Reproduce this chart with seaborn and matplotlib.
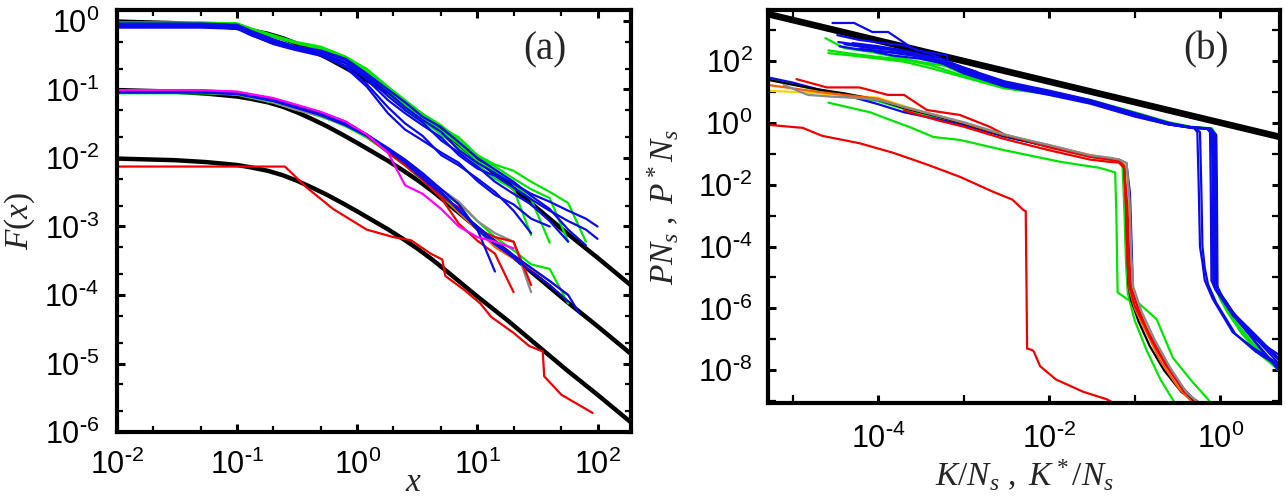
import numpy as np
import matplotlib
matplotlib.use('Agg')
import matplotlib.pyplot as plt
from matplotlib.ticker import LogLocator, NullFormatter, FuncFormatter
import seaborn as sns

# ---------------- panel (a): F(x) ----------------
black_x = [0.01, 0.03, 0.056, 0.1, 0.13, 0.18, 0.24, 0.32, 0.42, 0.56, 0.75, 1.0, 1.35, 1.8,
           2.4, 3.2, 4.2, 5.6, 10, 18, 32, 56, 100, 190]
black_y = [0.98, 0.93, 0.87, 0.79, 0.73, 0.65, 0.56, 0.46, 0.37, 0.29, 0.22, 0.166, 0.122, 0.091,
           0.066, 0.047, 0.033, 0.022, 0.0095, 0.0042, 0.0018, 0.00079, 0.00035, 0.000138]
black_shift = [1.0, 0.1, 0.01]

grid_top = [0.01, 0.05, 0.1, 0.13, 0.2, 0.3, 0.5, 0.8, 1.2, 1.8, 2.5, 3.5, 5, 7, 10, 14,
            20, 28, 40, 57, 80, 100]
top_b1 = [0.90, 0.90, 0.86, 0.70, 0.52, 0.42, 0.36, 0.27, 0.16, 0.09, 0.055, 0.036, 0.024, 0.013,
          0.0085, 0.006, 0.0042, 0.003, 0.0023, 0.0017, 0.0013, 0.001]
top_b2 = [0.86, 0.86, 0.82, 0.66, 0.49, 0.40, 0.33, 0.24, 0.14, 0.07, 0.045, 0.03, 0.02, 0.011,
          0.007, 0.0055, 0.0037, 0.0025, 0.0017, 0.0012, 0.0009, 0.00066]
top_b3 = [0.84, 0.84, 0.80, 0.63, 0.46, 0.38, 0.31, 0.22, 0.12, 0.055, 0.032, 0.021, 0.011, 0.0078,
          0.005, 0.0032, 0.0017, 0.0008]
top_b4 = [0.92, 0.92, 0.88, 0.72, 0.54, 0.43, 0.37, 0.28, 0.17, 0.10, 0.065, 0.04, 0.028, 0.017,
          0.01, 0.0068, 0.0045, 0.0028, 0.0018, 0.0009, 0.00053]
top_b5 = [0.80, 0.80, 0.77, 0.62, 0.47, 0.39, 0.32, 0.21, 0.11, 0.045, 0.026, 0.018, 0.012, 0.0085,
          0.0046, 0.0029, 0.0021, 0.0013, 0.001]
top_b6 = [0.88, 0.88, 0.84, 0.68, 0.51, 0.41, 0.34, 0.25, 0.15, 0.08, 0.05, 0.033, 0.018, 0.012,
          0.0075, 0.0045, 0.003, 0.0021, 0.0012, 0.0006]
top_g1 = [0.95, 0.95, 0.92, 0.78, 0.62, 0.50, 0.42, 0.30, 0.20, 0.11, 0.07, 0.044, 0.03, 0.018,
          0.0105, 0.0075, 0.005, 0.0035, 0.0026, 0.0006]
top_g2 = [0.93, 0.93, 0.91, 0.76, 0.60, 0.49, 0.40, 0.29, 0.19, 0.10, 0.06, 0.04, 0.025, 0.016,
          0.009, 0.0065, 0.0042, 0.0025, 0.00058]
top_g3 = [0.94, 0.94, 0.91, 0.77, 0.61, 0.49, 0.41, 0.30, 0.19, 0.105, 0.065, 0.042, 0.028, 0.02,
          0.011, 0.008, 0.0065, 0.0045, 0.0032, 0.0022, 0.0006]
top_g4 = [0.91, 0.91, 0.89, 0.75, 0.59, 0.48, 0.39, 0.28, 0.18, 0.09, 0.05, 0.035, 0.022, 0.014,
          0.008, 0.005, 0.0035, 0.00075]

grid_mid = [0.01, 0.05, 0.1, 0.2, 0.3, 0.5, 0.8, 1.2, 1.8, 2.5, 3.5, 5, 7, 10, 14, 20, 28, 40, 57, 70]
mid_b1 = [0.093, 0.093, 0.088, 0.07, 0.057, 0.044, 0.032, 0.022, 0.0135, 0.009, 0.0055, 0.0032,
          0.0017, 0.001, 0.0006, 0.00038, 0.00025, 0.00016, 0.0001, 0.000055]
mid_b2 = [0.092, 0.092, 0.087, 0.069, 0.056, 0.043, 0.031, 0.022, 0.014, 0.0095, 0.006, 0.0035,
          0.0021, 0.0009, 0.00022]
mid_b3 = [0.09, 0.09, 0.086, 0.068, 0.055, 0.042, 0.03, 0.021, 0.013, 0.0085, 0.005, 0.003,
          0.0018, 0.0009, 0.00055, 0.00035, 0.00022, 0.00014, 0.00008]
mid_g1 = [0.088, 0.088, 0.084, 0.064, 0.052, 0.04, 0.03, 0.02, 0.0125, 0.008, 0.0048, 0.003,
          0.0022, 0.0012, 0.0007, 0.00045, 0.00028, 0.00024, 0.000075]
mid_g2 = [0.09, 0.09, 0.085, 0.066, 0.053, 0.041, 0.029, 0.02, 0.012, 0.0078, 0.0047, 0.0028,
          0.0016, 0.0009, 0.0006]
mid_r1 = [0.095, 0.095, 0.09, 0.072, 0.058, 0.045, 0.033, 0.021, 0.012, 0.0078, 0.0048, 0.0026,
          0.0011, 0.00062, 0.0004, 0.00011]
mid_r2 = [0.097, 0.097, 0.092, 0.073, 0.059, 0.046, 0.034, 0.022, 0.0125, 0.0082, 0.005, 0.0027,
          0.0019, 0.0009, 0.0007, 0.0006, 0.00014]
mid_o = [0.094, 0.094, 0.089, 0.071, 0.057, 0.044, 0.032, 0.021, 0.0128, 0.0083, 0.0051, 0.0031,
         0.0016, 0.0009, 0.0005, 0.00034, 0.00024, 0.00016, 0.0001]
mid_gr = [0.09, 0.09, 0.085, 0.065, 0.051, 0.041, 0.03, 0.021, 0.0135, 0.0088, 0.0055, 0.0035,
          0.0023, 0.0012, 0.0008, 0.0006, 0.00011]
mid_m = [0.098, 0.098, 0.093, 0.075, 0.061, 0.047, 0.034, 0.022, 0.012, 0.004, 0.003, 0.0018,
         0.001, 0.0007, 0.0006, 0.00048]

bot_red_x = [0.01, 0.25, 0.38, 0.63, 1.2, 2.0, 2.8, 4.1, 5.1, 5.4, 7.7, 10.6, 13, 20, 27, 35, 36, 50, 91]
bot_red_y = [0.0075, 0.0075, 0.0037, 0.0018, 0.0009, 0.0007, 0.00063, 0.0004, 0.00033, 0.00019,
             0.00012, 0.000075, 0.000048, 0.000028, 0.000018, 0.000015, 0.0000065, 0.0000035,
             0.0000019]

a_xticks = [1e-2, 1e-1, 1e0, 1e1, 1e2]
a_yticks = [1e-6, 1e-5, 1e-4, 1e-3, 1e-2, 1e-1, 1e0]

# ---------------- panel (b): P Ns vs K/Ns ----------------
line_b_x = [5.1e-6, 5.0]
line_b_y = [3300, 0.35]

up_b1 = [(2.9e-5, 1700), (5.2e-5, 1700), (8.5e-5, 870), (1.3e-4, 870), (2.2e-4, 330), (2.8e-4, 220),
         (6.3e-4, 155), (6.5e-4, 93), (1.4e-3, 45), (2.2e-3, 20), (1e-2, 10), (3e-2, 5), (0.1, 1.9),
         (0.25, 0.95), (0.45, 0.72), (0.7, 0.66), (0.8, 0.5), (0.815, 0.01), (0.83, 7e-6),
         (0.91, 4e-6), (1.05, 2.5e-6), (1.4, 7.4e-7), (2.4, 1.7e-7), (5.0, 2.2e-8)]
up_b2 = [(3.3e-5, 690), (6e-5, 480), (1e-4, 400), (2e-4, 320), (4e-4, 170), (1e-3, 60), (3e-3, 22),
         (1e-2, 11), (3e-2, 5.5), (0.1, 2.1), (0.25, 1.0), (0.45, 0.72), (0.7, 0.66), (0.76, 0.5),
         (0.775, 0.01), (0.79, 8e-6), (0.88, 4e-6), (1.05, 2e-6), (1.4, 6e-7), (2.4, 1.4e-7),
         (5.0, 2e-8)]
up_b3 = [(3.4e-5, 410), (6e-5, 330), (1e-4, 270), (2e-4, 200), (4e-4, 120), (1e-3, 50), (3e-3, 18),
         (1e-2, 9), (3e-2, 4.8), (0.1, 1.8), (0.25, 0.92), (0.45, 0.7), (0.74, 0.64), (0.84, 0.45),
         (0.855, 0.01), (0.87, 6e-6), (0.95, 3.5e-6), (1.1, 2e-6), (1.5, 6e-7), (2.5, 1.2e-7),
         (5.0, 1.5e-8)]
up_b4 = [(4e-5, 350), (8e-5, 260), (1.5e-4, 230), (3e-4, 150), (6e-4, 90), (1e-3, 45), (3e-3, 16),
         (1e-2, 8.5), (3e-2, 4.5), (0.1, 1.7), (0.25, 0.9), (0.45, 0.7), (0.75, 0.63), (0.87, 0.4),
         (0.885, 0.01), (0.9, 6e-6), (1.0, 3e-6), (1.2, 1.5e-6), (1.6, 4e-7), (2.6, 8e-8),
         (5.0, 1e-8)]
up_b5 = [(3.5e-5, 300), (7e-5, 220), (1.3e-4, 200), (2.5e-4, 170), (5e-4, 100), (1e-3, 40),
         (3e-3, 15), (1e-2, 8), (3e-2, 4.2), (0.1, 1.6), (0.25, 0.88), (0.45, 0.7), (0.5, 0.66),
         (0.54, 0.5), (0.56, 0.01), (0.58, 1e-4), (0.62, 3e-5), (0.66, 8e-6), (0.82, 2e-6),
         (1.4, 1.7e-7), (2.5, 5e-8), (5.0, 1.5e-8)]
up_b6 = [(5e-5, 380), (1e-4, 300), (2e-4, 220), (4e-4, 140), (1e-3, 55), (3e-3, 20), (1e-2, 9.5),
         (3e-2, 5), (0.1, 1.9), (0.25, 0.95), (0.45, 0.72), (0.52, 0.66), (0.58, 0.5), (0.6, 0.01),
         (0.62, 1e-4), (0.66, 2e-5), (0.72, 6e-6), (0.9, 1.5e-6), (1.5, 1.5e-7), (2.6, 4e-8),
         (5.0, 1.3e-8)]
up_b7 = [(6e-5, 250), (1.2e-4, 200), (2.5e-4, 150), (5e-4, 95), (1e-3, 42), (3e-3, 17), (1e-2, 9),
         (3e-2, 4.6), (0.1, 1.75), (0.25, 0.9), (0.45, 0.71), (0.78, 0.64), (0.9, 0.4),
         (0.915, 0.01), (0.93, 5e-6), (1.05, 2.5e-6), (1.3, 1e-6), (1.8, 3e-7), (2.8, 6e-8),
         (5.0, 9e-9)]
up_b8 = [(9e-5, 200), (1.5e-4, 150), (3e-4, 120), (6e-4, 80), (1e-3, 48), (3e-3, 19), (1e-2, 10),
         (3e-2, 5.2), (0.1, 2.0), (0.25, 0.97), (0.45, 0.73), (0.76, 0.66), (0.83, 0.45),
         (0.845, 0.01), (0.86, 5e-6), (0.95, 3e-6), (1.15, 1.6e-6), (1.6, 4e-7), (2.6, 1e-7),
         (5.0, 3e-8)]
up_g1 = [(2.4e-5, 550), (4e-5, 260), (8e-5, 200), (1.5e-4, 140), (3e-4, 95), (6e-4, 70), (1e-3, 38),
         (3e-3, 15), (1e-2, 9.5), (3e-2, 5.5), (0.1, 2.2), (0.25, 1.05), (0.45, 0.75), (0.8, 0.66),
         (0.86, 0.45), (0.875, 0.01), (0.89, 5e-6), (0.98, 2.5e-6), (1.2, 8e-7), (1.7, 2e-7),
         (2.8, 4e-8), (5.0, 9e-9)]
up_g2 = [(2.6e-5, 220), (5e-5, 170), (1e-4, 135), (2e-4, 110), (4e-4, 75), (1e-3, 33), (3e-3, 14),
         (1e-2, 9), (3e-2, 5.2), (0.1, 2.0), (0.25, 1.0), (0.45, 0.74), (0.8, 0.65), (0.88, 0.45),
         (0.895, 0.01), (0.91, 4e-6), (1.0, 2e-6), (1.25, 7e-7), (1.8, 1.5e-7), (3.0, 3e-8),
         (5.0, 1e-8)]
up_g3 = [(2.6e-5, 180), (5e-5, 150), (1e-4, 120), (2e-4, 95), (4e-4, 60), (1e-3, 30), (3e-3, 13),
         (1e-2, 8.5), (3e-2, 5), (0.1, 1.9), (0.25, 0.98), (0.45, 0.73), (0.78, 0.64), (0.84, 0.45),
         (0.855, 0.01), (0.87, 6e-6), (0.95, 3e-6), (1.15, 1.2e-6), (1.6, 3e-7), (2.6, 6e-8),
         (5.0, 1.1e-8)]

mid_blue = [(5e-6, 30), (1e-5, 20), (2e-5, 12), (4e-5, 8), (1e-4, 4), (2e-4, 2.2), (5e-4, 1.3),
            (1e-3, 0.85), (3e-3, 0.36), (1e-2, 0.17), (3e-2, 0.085), (5e-2, 0.07), (6.5e-2, 0.065),
            (8e-2, 0.05), (8.8e-2, 5e-3), (9.2e-2, 1e-4), (9.5e-2, 5e-6), (0.11, 9e-7),
            (0.15, 1.2e-7), (0.22, 2e-8), (0.35, 3e-9), (0.5, 1.1e-9), (0.6, 8e-10)]
mid_black = [(5e-6, 25), (1e-5, 17), (2e-5, 12), (4e-5, 9), (1e-4, 5.5), (2e-4, 3), (5e-4, 1.6),
             (1e-3, 0.95), (3e-3, 0.38), (1e-2, 0.17), (3e-2, 0.085), (5e-2, 0.07), (6.5e-2, 0.062),
             (7.5e-2, 0.04), (7.9e-2, 3e-3), (8.2e-2, 5e-5), (8.5e-2, 5e-6), (9e-2, 2e-6),
             (0.11, 4e-7), (0.15, 6e-8), (0.22, 1e-8), (0.35, 2e-9), (0.55, 8e-10)]
mid_orange = [(5e-6, 17), (1e-5, 13), (2e-5, 10), (4e-5, 8), (1e-4, 6), (2e-4, 3.2), (5e-4, 1.7),
              (1e-3, 1.0), (3e-3, 0.4), (1e-2, 0.19), (3e-2, 0.09), (5e-2, 0.072), (6.5e-2, 0.065),
              (7.5e-2, 0.04), (8e-2, 1e-3), (8.3e-2, 3e-5), (8.7e-2, 4e-6), (0.1, 1e-6),
              (0.14, 1.5e-7), (0.2, 2e-8), (0.33, 2.5e-9), (0.5, 8e-10)]
mid_yellow = [(5e-6, 11), (1e-5, 10), (2e-5, 9), (4e-5, 8), (1e-4, 6.5), (2e-4, 3.5), (5e-4, 1.6),
              (1e-3, 0.98), (3e-3, 0.39), (1e-2, 0.18), (3e-2, 0.088), (5e-2, 0.07), (6.5e-2, 0.06),
              (8e-2, 0.045), (8.6e-2, 2e-3), (9e-2, 4e-5), (9.5e-2, 4e-6), (0.12, 6e-7),
              (0.16, 1e-7), (0.24, 1.5e-8), (0.38, 2e-9), (0.55, 8e-10)]
mid_gray = [(7.8e-6, 17), (1.5e-5, 8), (3e-5, 7), (6e-5, 6.3), (1e-4, 5.5), (2e-4, 3.3), (5e-4, 1.7),
            (1e-3, 1.05), (3e-3, 0.42), (1e-2, 0.19), (3e-2, 0.09), (5e-2, 0.075), (6.5e-2, 0.066),
            (8e-2, 0.05), (8.7e-2, 3e-3), (9.1e-2, 5e-5), (9.6e-2, 5e-6), (0.12, 8e-7),
            (0.17, 1e-7), (0.26, 1.2e-8), (0.4, 2e-9), (0.58, 8e-10)]
mid_red1 = [(1.1e-5, 26), (2.5e-5, 14), (6e-5, 14), (1.3e-4, 8), (2e-4, 8), (3.7e-4, 2.6),
            (9e-4, 1.8), (2e-3, 0.75), (3e-3, 0.42), (1e-2, 0.16), (3e-2, 0.08), (5e-2, 0.065),
            (6.5e-2, 0.058), (7.5e-2, 0.04), (7.9e-2, 2e-3), (8.2e-2, 5e-5), (8.6e-2, 6e-6),
            (0.1, 1.2e-6), (0.14, 2e-7), (0.21, 2.5e-8), (0.35, 3e-9), (0.55, 8e-10)]
mid_red2 = [(2e-4, 2.5), (5e-4, 1.2), (1e-3, 0.75), (3e-3, 0.3), (1e-2, 0.13), (3e-2, 0.065),
            (5e-2, 0.055), (6.5e-2, 0.052), (7.5e-2, 0.035), (8.2e-2, 2e-3), (8.6e-2, 5e-5),
            (9e-2, 5e-6), (0.11, 1e-6), (0.15, 1.2e-7), (0.23, 1.5e-8), (0.38, 2e-9), (0.6, 8e-10)]
mid_green1 = [(2.6e-5, 4.5), (8e-5, 2.2), (1.7e-4, 1.0), (2.3e-4, 0.74), (4.4e-4, 0.35), (9e-4, 0.28),
              (3e-3, 0.13), (1.35e-2, 0.055), (3.9e-2, 0.035), (5.9e-2, 0.025), (6.1e-2, 1e-3),
              (6.3e-2, 3.3e-6), (8.1e-2, 2e-6), (0.115, 1.35e-6), (0.18, 4.5e-7), (0.28, 2.5e-8),
              (0.48, 4e-9), (0.7, 1.26e-9), (0.8, 8e-10)]
mid_green2 = [(5e-6, 28), (1e-5, 18), (2e-5, 11), (4e-5, 7.5), (1e-4, 5), (2e-4, 2.8), (5e-4, 1.5),
              (1e-3, 0.9), (3e-3, 0.37), (1e-2, 0.17), (3e-2, 0.08), (5e-2, 0.066), (6.5e-2, 0.06),
              (7.2e-2, 0.04), (7.6e-2, 1e-3), (7.9e-2, 3e-5), (8.3e-2, 3e-6), (0.1, 4e-7),
              (0.14, 4e-8), (0.2, 5e-9), (0.3, 8e-10)]

low_red = [(5e-6, 0.87), (1.3e-5, 0.69), (2.2e-5, 0.38), (6e-5, 0.22), (1.5e-4, 0.107),
           (3.7e-4, 0.045), (9e-4, 0.018), (2.2e-3, 5.9e-3), (3.7e-3, 3.3e-3), (5.0e-3, 1.5e-3),
           (5.3e-3, 1.4e-3), (5.4e-3, 1e-5), (5.5e-3, 5e-8), (6.3e-3, 4.5e-8), (6.6e-3, 4e-8),
           (7.8e-3, 1.35e-8), (1.2e-2, 5e-9), (2.5e-2, 2e-9), (4.7e-2, 1.15e-9), (6e-2, 8e-10)]

b_xticks = [1e-4, 1e-2, 1e0]
b_xminor = [1e-5, 1e-3, 1e-1]
b_yticks = [1e2, 1e0, 1e-2, 1e-4, 1e-6, 1e-8]
b_yminor = [1e3, 1e1, 1e-1, 1e-3, 1e-5, 1e-7, 1e-9]

BLUE, GREEN, RED = '#0a0aea', '#00e400', '#ee0000'
ORANGE, MAGENTA, GRAY, YELLOW = '#ff5a00', '#ff00ff', '#8a8a8a', '#ffd400'

sns.set_style('ticks')
plt.rcParams['font.family'] = ['Liberation Sans', 'DejaVu Sans']
plt.rcParams['mathtext.fontset'] = 'custom'
plt.rcParams['mathtext.rm'] = 'Liberation Serif'
plt.rcParams['mathtext.it'] = 'Liberation Serif:italic'
plt.rcParams['axes.unicode_minus'] = False


def curve(ax, x, y, color, lw=1.6):
    sns.lineplot(x=list(x), y=list(y), color=color, lw=lw, sort=False, estimator=None,
                 ax=ax, legend=False)


def pairs(ax, pts, color, lw=1.6):
    xs, ys = zip(*pts)
    curve(ax, xs, ys, color, lw)


def pow10(v, pos):
    e = int(round(np.log10(v)))
    if e < 0:
        return r'$\mathdefault{10^{\text{-}%d}}$' % (-e)
    return r'$\mathdefault{10^{%d}}$' % e


def style_axes(ax, xpad, ypad):
    for s in ax.spines.values():
        s.set_linewidth(3)
        s.set_color('black')
    ax.tick_params(which='both', direction='in', top=True, right=True, colors='black')
    ax.tick_params(which='major', length=6, width=2.2, labelsize=22)
    ax.tick_params(which='minor', length=4, width=1.6)
    ax.tick_params(axis='x', which='major', pad=xpad)
    ax.tick_params(axis='y', which='major', pad=ypad)
    ax.xaxis.set_major_formatter(FuncFormatter(pow10))
    ax.yaxis.set_major_formatter(FuncFormatter(pow10))
    ax.xaxis.set_minor_formatter(NullFormatter())
    ax.yaxis.set_minor_formatter(NullFormatter())
    ax.grid(False)


fig = plt.figure(figsize=(12.87, 4.96), dpi=100)
ax_a = fig.add_axes([0.0909, 0.129, 0.3994, 0.851])
ax_b = fig.add_axes([0.5967, 0.1875, 0.3978, 0.7925])

# ---- (a)
ax_a.set_xscale('log')
ax_a.set_yscale('log')
for s in black_shift:
    curve(ax_a, black_x, [v * s for v in black_y], 'black', lw=3.2)
for ys, c in [(top_g1, GREEN), (top_g2, GREEN), (top_g3, GREEN), (top_g4, GREEN),
              (top_b1, BLUE), (top_b2, BLUE), (top_b3, BLUE), (top_b4, BLUE),
              (top_b5, BLUE), (top_b6, BLUE)]:
    curve(ax_a, grid_top[:len(ys)], ys, c)
for ys, c in [(mid_g1, GREEN), (mid_g2, GREEN), (mid_gr, GRAY), (mid_o, ORANGE),
              (mid_r1, RED), (mid_r2, RED), (mid_b1, BLUE), (mid_b2, BLUE), (mid_b3, BLUE),
              (mid_m, MAGENTA)]:
    curve(ax_a, grid_mid[:len(ys)], ys, c)
curve(ax_a, bot_red_x, bot_red_y, RED)

ax_a.set_xlim(0.01, 190)
ax_a.set_ylim(1e-6, 1.45)
ax_a.set_xticks(a_xticks)
ax_a.set_yticks(a_yticks)
ax_a.xaxis.set_minor_locator(LogLocator(base=10, subs=(2, 5), numticks=20))
ax_a.yaxis.set_minor_locator(LogLocator(base=10, subs=(2, 5), numticks=20))
style_axes(ax_a, xpad=13, ypad=13)
ax_a.set_xlabel('$x$', fontsize=24)
ax_a.xaxis.set_label_coords(0.576, -0.082)
ax_a.set_ylabel('$F(x)$', fontsize=24, labelpad=5)
ax_a.text(0.833, 0.905, '(a)', transform=ax_a.transAxes, fontsize=28,
          family='Liberation Serif', ha='center', va='center')

# ---- (b)
ax_b.set_xscale('log')
ax_b.set_yscale('log')
curve(ax_b, line_b_x, line_b_y, 'black', lw=4.8)
for pts in [up_g1, up_g2, up_g3]:
    pairs(ax_b, pts, GREEN)
for pts in [up_b1, up_b2, up_b3, up_b4, up_b5, up_b6, up_b7, up_b8]:
    pairs(ax_b, pts, BLUE)
for pts, c in [(mid_green1, GREEN), (mid_green2, GREEN), (mid_blue, BLUE), (mid_yellow, YELLOW),
               (mid_black, 'black'), (mid_orange, ORANGE), (mid_red2, RED), (mid_red1, RED),
               (mid_gray, GRAY)]:
    pairs(ax_b, pts, c)
pairs(ax_b, low_red, RED)

ax_b.set_xlim(5.1e-6, 5.0)
ax_b.set_ylim(8.7e-10, 4.5e3)
ax_b.set_xticks(b_xticks)
ax_b.set_xticks(b_xminor, minor=True)
ax_b.set_yticks(b_yticks)
ax_b.set_yticks(b_yminor, minor=True)
style_axes(ax_b, xpad=15, ypad=11)
for t in ax_b.yaxis.get_minor_ticks() + ax_b.xaxis.get_minor_ticks():
    t.tick1line.set_markersize(6)
    t.tick2line.set_markersize(6)
ax_b.set_xlabel(r'$K/N_s\ ,\ K^*/N_s$', fontsize=24, labelpad=2)
ax_b.set_ylabel(r'$PN_s\ ,\ P^*N_s$', fontsize=24, labelpad=12)
ax_b.text(0.855, 0.898, '(b)', transform=ax_b.transAxes, fontsize=28,
          family='Liberation Serif', ha='center', va='center')

fig.savefig('out.png', dpi=100)
